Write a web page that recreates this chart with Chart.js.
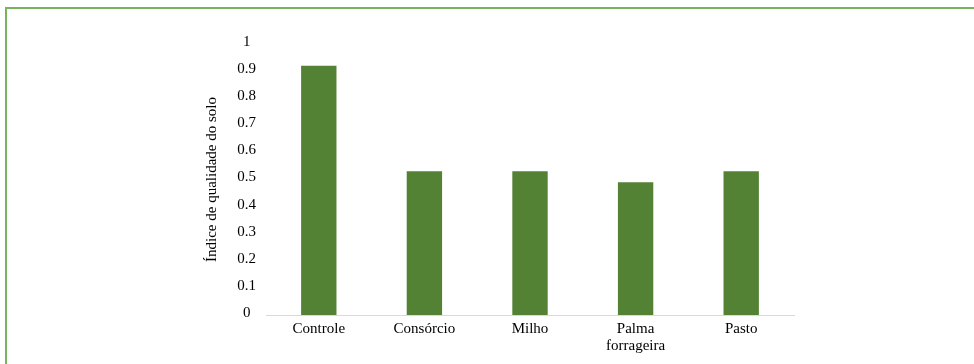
<!DOCTYPE html>
<html>
<head>
<meta charset="utf-8">
<script src="https://cdn.jsdelivr.net/npm/chart.js@4"></script>
<style>
    html, body { margin: 0; padding: 0; background: #fff; overflow: hidden; }
    #wrap { position: relative; width: 974px; height: 364px; }
    #frame {
        position: absolute; left: 5px; top: 7px;
        width: 1000px; height: 400px;
        border: 2px solid #77b55c;
        box-sizing: border-box;
        pointer-events: none;
    }
</style>
</head>
<body>
<div id="wrap">
    <canvas id="barChart"></canvas>
    <div id="frame"></div>
</div>
<script>
var categories = ['Controle', 'Consórcio', 'Milho', ['Palma', 'forrageira'], 'Pasto'];
var iqs = [0.92, 0.53, 0.53, 0.49, 0.53];
var yTicks = [0, 0.1, 0.2, 0.3, 0.4, 0.5, 0.6, 0.7, 0.8, 0.9, 1];

var serif = "'Liberation Serif', 'Times New Roman', serif";

var ctx = document.getElementById('barChart').getContext('2d');
var barChart = new Chart(ctx, {
    type: 'bar',
    data: {
        labels: categories,
        datasets: [{
            label: 'Índice de qualidade do solo',
            data: iqs,
            backgroundColor: '#548235',
            borderWidth: 0,
            categoryPercentage: 1,
            barPercentage: 0.335
        }]
    },
    options: {
        responsive: true,
        maintainAspectRatio: false,
        animation: false,
        layout: {
            padding: { left: 203, right: 180, top: 44, bottom: 0 }
        },
        plugins: {
            legend: { display: false },
            tooltip: { enabled: false }
        },
        scales: {
            x: {
                grid: { display: false, drawTicks: false },
                border: { display: true, color: '#d9d9d9', width: 1 },
                ticks: {
                    color: '#000',
                    font: { family: serif, size: 15, lineHeight: 1.13 },
                    padding: 6,
                    maxRotation: 0,
                    autoSkip: false
                },
                afterFit: function (scale) { scale.height = 49; }
            },
            y: {
                min: 0,
                max: 1,
                grid: { display: false, drawTicks: false },
                border: { display: false },
                afterBuildTicks: function (scale) {
                    scale.ticks = yTicks.map(function (v) { return { value: v }; });
                },
                ticks: {
                    color: '#000',
                    font: { family: serif, size: 15 },
                    padding: 10,
                    crossAlign: 'center',
                    labelOffset: -2,
                    callback: function (v) { return String(Number(v.toFixed(1))); }
                },
                title: {
                    display: true,
                    text: 'Índice de qualidade do solo',
                    color: '#000',
                    font: { family: serif, size: 15, lineHeight: 1.2 },
                    padding: 0
                },
                afterFit: function (scale) { scale.width = 63; }
            }
        }
    }
});
</script>
</body>
</html>
